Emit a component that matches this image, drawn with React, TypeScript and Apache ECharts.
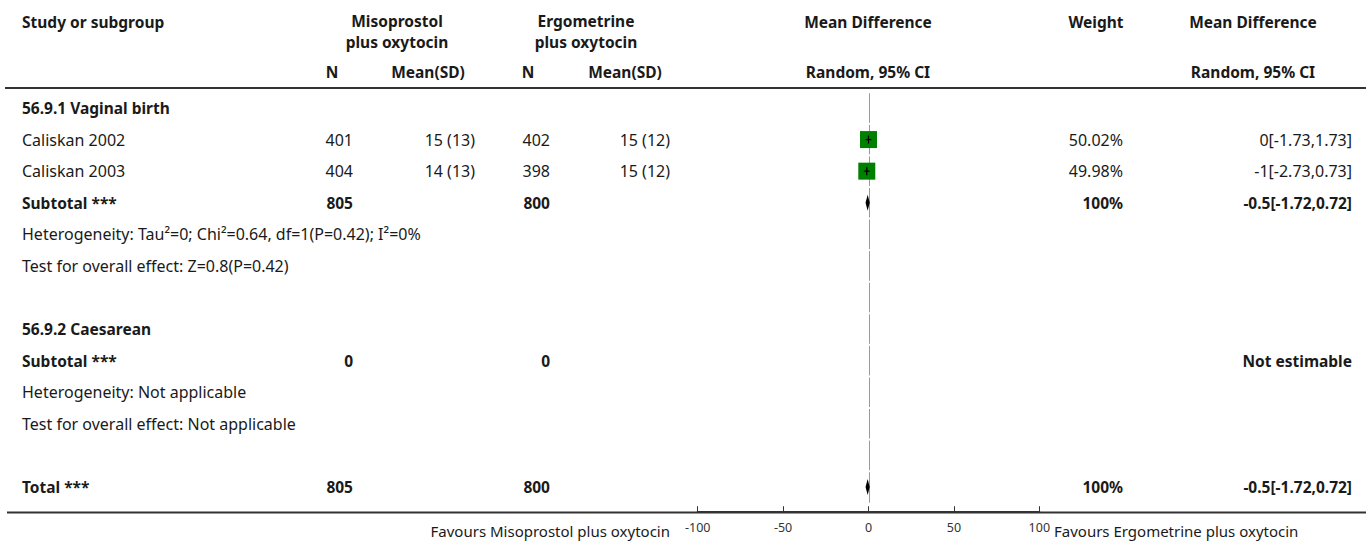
import React, { useEffect, useRef } from "react";
import * as echarts from "echarts";

// ---------------- data ----------------
const studies = ["Caliskan 2002", "Caliskan 2003"];
const studyGroup = [0, 0];
const expN = [401, 404];
const expMeanSD = ["15 (13)", "14 (13)"];
const ctrlN = [402, 398];
const ctrlMeanSD = ["15 (12)", "15 (12)"];
const studyMD = [0, -1];
const studyLo = [-1.73, -2.73];
const studyHi = [1.73, 0.73];
const studyWeight = [50.02, 49.98];

const subgroupNames = ["56.9.1 Vaginal birth", "56.9.2 Caesarean"];
const subtotalExpN = [805, 0];
const subtotalCtrlN = [800, 0];
const subtotalMD: (number | null)[] = [-0.5, null];
const subtotalLo: (number | null)[] = [-1.72, null];
const subtotalHi: (number | null)[] = [0.72, null];
const subtotalWeight = ["100%", ""];
const heterogeneity = [
  "Heterogeneity: Tau²=0; Chi²=0.64, df=1(P=0.42); I²=0%",
  "Heterogeneity: Not applicable",
];
const overallTest = [
  "Test for overall effect: Z=0.8(P=0.42)",
  "Test for overall effect: Not applicable",
];

const totalExpN = 805;
const totalCtrlN = 800;
const totalMD = -0.5;
const totalLo = -1.72;
const totalHi = 0.72;
const totalWeight = "100%";

const xTicks = [-100, -50, 0, 50, 100];
const favoursLeft = "Favours Misoprostol plus oxytocin";
const favoursRight = "Favours Ergometrine plus oxytocin";

// ---------------- layout ----------------
const FONT = "'Noto Sans', 'Open Sans', sans-serif";
const FS = 16;
const FS_BOLD = 15.5;
const FS_FAV = 15;
const COLOR = "#1a1a1a";
const GRID_LEFT = 697.7;
const GRID_W = 341.6;
const ROW_H = 31.58;
const FIRST_ROW_Y = 108;
const Y_MIN = -0.5;
const Y_MAX = 12.8;
const GRID_TOP = FIRST_ROW_Y + Y_MIN * ROW_H;
const GRID_H = (Y_MAX - Y_MIN) * ROW_H;

const fmtEff = (m: number, l: number, h: number) => `${m}[${l},${h}]`;

type Row = {
  label: string;
  bold: boolean;
  n1?: string;
  m1?: string;
  n2?: string;
  m2?: string;
  w?: string;
  eff?: string;
  kind?: "study" | "diamond";
  md?: number;
  lo?: number;
  hi?: number;
  weight?: number;
};

function buildRows(): Row[] {
  const rows: Row[] = [];
  subgroupNames.forEach((g, gi) => {
    rows.push({ label: g, bold: true });
    studies.forEach((s, si) => {
      if (studyGroup[si] !== gi) return;
      rows.push({
        label: s,
        bold: false,
        n1: String(expN[si]),
        m1: expMeanSD[si],
        n2: String(ctrlN[si]),
        m2: ctrlMeanSD[si],
        w: studyWeight[si].toFixed(2) + "%",
        eff: fmtEff(studyMD[si], studyLo[si], studyHi[si]),
        kind: "study",
        md: studyMD[si],
        lo: studyLo[si],
        hi: studyHi[si],
        weight: studyWeight[si],
      });
    });
    const md = subtotalMD[gi];
    rows.push({
      label: "Subtotal ***",
      bold: true,
      n1: String(subtotalExpN[gi]),
      n2: String(subtotalCtrlN[gi]),
      w: subtotalWeight[gi],
      eff: md === null ? "Not estimable" : fmtEff(md, subtotalLo[gi] as number, subtotalHi[gi] as number),
      kind: md === null ? undefined : "diamond",
      md: md === null ? undefined : md,
      lo: subtotalLo[gi] ?? undefined,
      hi: subtotalHi[gi] ?? undefined,
    });
    rows.push({ label: heterogeneity[gi], bold: false });
    rows.push({ label: overallTest[gi], bold: false });
    rows.push({ label: "", bold: false });
  });
  rows.push({
    label: "Total ***",
    bold: true,
    n1: String(totalExpN),
    n2: String(totalCtrlN),
    w: totalWeight,
    eff: fmtEff(totalMD, totalLo, totalHi),
    kind: "diamond",
    md: totalMD,
    lo: totalLo,
    hi: totalHi,
  });
  return rows;
}

export default function App() {
  const ref = useRef<HTMLDivElement>(null);
  useEffect(() => {
    if (!ref.current) return;
    const chart = echarts.init(ref.current, undefined, { renderer: "svg" });
    const rows = buildRows();
    const rowY = (i: number) => FIRST_ROW_Y + i * ROW_H;

    const txt = (
      text: string,
      x: number,
      y: number,
      align: "left" | "center" | "right",
      bold: boolean,
      size?: number
    ) => ({
      type: "text",
      x,
      y,
      silent: true,
      style: {
        text,
        fill: COLOR,
        font: `${bold ? "bold " : ""}${size ?? (bold ? FS_BOLD : FS)}px ${FONT}`,
        textAlign: align,
        textVerticalAlign: "middle",
      },
    });

    const graphics: any[] = [];
    // headers
    graphics.push(txt("Study or subgroup", 22, 22, "left", true));
    graphics.push(txt("Misoprostol", 397, 21, "center", true));
    graphics.push(txt("plus oxytocin", 397, 42, "center", true));
    graphics.push(txt("Ergometrine", 586, 21, "center", true));
    graphics.push(txt("plus oxytocin", 586, 42, "center", true));
    graphics.push(txt("Mean Difference", 868, 22, "center", true));
    graphics.push(txt("Weight", 1096, 22, "center", true));
    graphics.push(txt("Mean Difference", 1253, 22, "center", true));
    graphics.push(txt("N", 332, 72, "center", true));
    graphics.push(txt("Mean(SD)", 428, 72, "center", true));
    graphics.push(txt("N", 528, 72, "center", true));
    graphics.push(txt("Mean(SD)", 625, 72, "center", true));
    graphics.push(txt("Random, 95% CI", 868, 72, "center", true));
    graphics.push(txt("Random, 95% CI", 1253, 72, "center", true));
    // lines
    graphics.push({
      type: "line",
      shape: { x1: 5, y1: 88, x2: 1366, y2: 88 },
      style: { stroke: "#333", lineWidth: 2 },
      silent: true,
    });
    graphics.push({
      type: "line",
      shape: { x1: 7, y1: 512.5, x2: 1366, y2: 512.5 },
      style: { stroke: "#333", lineWidth: 2 },
      silent: true,
    });
    // rows
    rows.forEach((r, i) => {
      const y = rowY(i);
      if (r.label) graphics.push(txt(r.label, 22, y, "left", r.bold));
      if (r.n1 !== undefined) graphics.push(txt(r.n1, 353, y, "right", r.bold));
      if (r.m1 !== undefined) graphics.push(txt(r.m1, 475, y, "right", r.bold));
      if (r.n2 !== undefined) graphics.push(txt(r.n2, 550, y, "right", r.bold));
      if (r.m2 !== undefined) graphics.push(txt(r.m2, 670, y, "right", r.bold));
      if (r.w) graphics.push(txt(r.w, 1123, y, "right", r.bold));
      if (r.eff) graphics.push(txt(r.eff, 1352, y, "right", r.bold));
    });
    graphics.push(txt(favoursLeft, 670, 531, "right", false, FS_FAV));
    graphics.push(txt(favoursRight, 1054, 531, "left", false, FS_FAV));

    const studyData = rows
      .map((r, i) => (r.kind === "study" ? [r.md, i, r.lo, r.hi, r.weight] : null))
      .filter(Boolean);
    const diamondData = rows
      .map((r, i) => (r.kind === "diamond" ? [r.md, i, r.lo, r.hi] : null))
      .filter(Boolean);
    const zeroData = rows.map((_, i) => [0, i]);

    chart.setOption({
      animation: false,
      grid: {
        left: GRID_LEFT,
        top: GRID_TOP,
        width: GRID_W,
        height: GRID_H,
        containLabel: false,
      },
      xAxis: {
        type: "value",
        position: "bottom",
        min: -100,
        max: 100,
        interval: 50,
        splitLine: { show: false },
        axisLine: { show: true, onZero: false, lineStyle: { color: "#333", width: 2 } },
        axisTick: { show: true, inside: true, length: 6, lineStyle: { color: "#333", width: 1 } },
        axisLabel: {
          fontSize: 12.5,
          color: "#333",
          fontFamily: FONT,
          margin: 9,
          customValues: xTicks,
        },
      },
      yAxis: {
        type: "value",
        min: Y_MIN,
        max: Y_MAX,
        inverse: true,
        show: false,
      },
      graphic: graphics,
      series: [
        {
          type: "custom",
          clip: false,
          data: zeroData,
          renderItem: (params: any, api: any) => {
            const i = api.value(1);
            const top = api.coord([0, i - 0.5]);
            const bot = api.coord([0, Math.min(i + 0.5, Y_MAX)]);
            const x = Math.round(top[0]) + 0.5;
            return {
              type: "line",
              shape: { x1: x, y1: top[1] + 1, x2: x, y2: bot[1] - (i === rows.length - 1 ? 0 : 1) },
              style: { stroke: "#9a9a9a", lineWidth: 1 },
            };
          },
        },
        {
          type: "custom",
          clip: false,
          data: studyData,
          renderItem: (params: any, api: any) => {
            const c = api.coord([api.value(0), api.value(1)]);
            const l = api.coord([api.value(2), api.value(1)]);
            const h = api.coord([api.value(3), api.value(1)]);
            const size = 17 * Math.sqrt(api.value(4) / 50);
            return {
              type: "group",
              children: [
                {
                  type: "rect",
                  shape: { x: c[0] - size / 2, y: c[1] - size / 2, width: size, height: size },
                  style: { fill: "#008000" },
                },
                {
                  type: "line",
                  shape: { x1: l[0], y1: c[1], x2: h[0], y2: c[1] },
                  style: { stroke: "#000", lineWidth: 1.3 },
                },
                {
                  type: "line",
                  shape: { x1: c[0], y1: c[1] - 4, x2: c[0], y2: c[1] + 4 },
                  style: { stroke: "#000", lineWidth: 1.3 },
                },
              ],
            };
          },
        },
        {
          type: "custom",
          clip: false,
          data: diamondData,
          renderItem: (params: any, api: any) => {
            const c = api.coord([api.value(0), api.value(1)]);
            const l = api.coord([api.value(2), api.value(1)]);
            const h = api.coord([api.value(3), api.value(1)]);
            return {
              type: "polygon",
              shape: {
                points: [
                  [l[0], c[1]],
                  [c[0], c[1] - 8],
                  [h[0], c[1]],
                  [c[0], c[1] + 8],
                ],
              },
              style: { fill: "#000" },
            };
          },
        },
      ],
    });
    return () => chart.dispose();
  }, []);
  return <div ref={ref} style={{ width: 1370, height: 541, position: "absolute", left: 0, top: 0 }} />;
}
